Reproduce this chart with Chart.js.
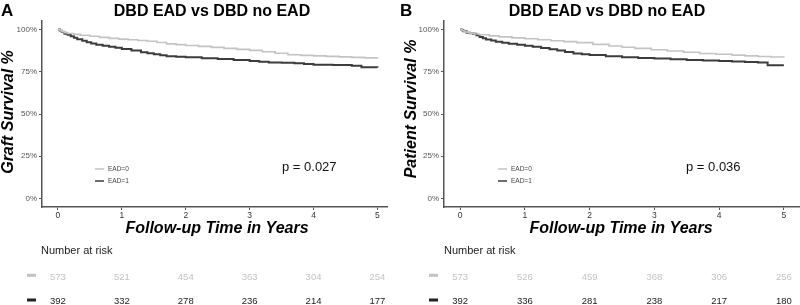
<!DOCTYPE html>
<html>
<head>
<meta charset="utf-8">
<script src="https://cdn.jsdelivr.net/npm/chart.js@4.4.1/dist/chart.umd.min.js"></script>
<style>
  html, body { margin: 0; padding: 0; background: #fff; }
  #wrap { position: relative; width: 800px; height: 305px; }
  .panel { position: absolute; top: 0; width: 400px; height: 305px; }
</style>
</head>
<body>
<div id="wrap">
  <div class="panel" style="left:0"><canvas id="chartA" width="400" height="305"></canvas></div>
  <div class="panel" style="left:400px"><canvas id="chartB" width="400" height="305"></canvas></div>
</div>
<script>
// axis ticks
const years = [0, 1, 2, 3, 4, 5];
const survTicks = [0, 25, 50, 75, 100];

// panel A - graft survival
const graftTime0 = [0, 0.03, 0.06, 0.1, 0.15, 0.25, 0.35, 0.5, 0.65, 0.8, 0.95, 1.1, 1.25, 1.4, 1.55, 1.7, 1.85, 2.0, 2.2, 2.4, 2.6, 2.8, 3.0, 3.2, 3.4, 3.6, 3.8, 4.0, 4.2, 4.4, 4.6, 4.8, 5.0];
const graftSurv0 = [100, 99.3, 98.7, 98.1, 97.6, 97.1, 96.6, 96.0, 95.3, 94.7, 94.3, 93.9, 93.5, 93.0, 92.3, 91.5, 91.0, 90.5, 90.0, 89.4, 88.8, 88.2, 87.6, 86.8, 85.9, 85.0, 84.7, 84.4, 84.1, 83.8, 83.5, 83.2, 83.0];
const graftTime1 = [0, 0.03, 0.06, 0.1, 0.15, 0.2, 0.25, 0.3, 0.38, 0.45, 0.52, 0.6, 0.7, 0.8, 0.9, 1.0, 1.15, 1.3, 1.4, 1.5, 1.6, 1.7, 1.85, 2.0, 2.25, 2.5, 2.75, 3.0, 3.15, 3.3, 3.5, 3.7, 3.85, 4.0, 4.3, 4.6, 4.75, 5.0];
const graftSurv1 = [100, 99.2, 98.5, 97.5, 96.8, 96.0, 95.1, 94.2, 93.3, 92.5, 91.7, 91.0, 90.4, 89.8, 89.2, 88.5, 87.5, 86.5, 85.9, 85.3, 84.8, 84.2, 83.8, 83.5, 83.0, 82.6, 82.0, 81.3, 80.9, 80.5, 80.3, 80.0, 79.6, 79.2, 79.0, 78.6, 77.6, 77.5];
const graftRisk0 = [573, 521, 454, 363, 304, 254];
const graftRisk1 = [392, 332, 278, 236, 214, 177];

// panel B - patient survival
const patTime0 = [0, 0.03, 0.06, 0.1, 0.15, 0.22, 0.3, 0.45, 0.6, 0.8, 1.0, 1.2, 1.4, 1.6, 1.8, 2.05, 2.3, 2.5, 2.7, 2.95, 3.2, 3.45, 3.7, 3.95, 4.2, 4.4, 4.6, 4.8, 5.0];
const patSurv0 = [100, 99.4, 98.8, 98.3, 97.8, 97.3, 96.9, 96.2, 95.6, 95.0, 94.5, 93.9, 93.3, 92.8, 92.2, 91.2, 90.2, 89.5, 88.8, 88.0, 87.3, 86.5, 85.8, 85.3, 84.8, 84.4, 84.0, 83.7, 83.4];
const patTime1 = [0, 0.03, 0.05, 0.1, 0.15, 0.2, 0.25, 0.3, 0.35, 0.4, 0.48, 0.55, 0.65, 0.75, 0.88, 1.0, 1.12, 1.25, 1.38, 1.5, 1.62, 1.75, 1.88, 2.0, 2.25, 2.5, 2.75, 3.0, 3.25, 3.5, 3.75, 4.0, 4.2, 4.4, 4.6, 4.75, 5.0];
const patSurv1 = [100, 99.5, 99, 98, 97.8, 97.5, 96.5, 95.5, 94.8, 94.0, 93.4, 92.8, 92.2, 91.6, 90.9, 90.3, 89.7, 89.1, 88.3, 87.5, 86.6, 85.8, 85.3, 84.9, 84.2, 83.5, 83.1, 82.8, 82.4, 82.0, 81.6, 81.3, 81.0, 80.8, 80.5, 78.9, 78.9];
const patRisk0 = [573, 526, 459, 368, 306, 256];
const patRisk1 = [392, 336, 281, 238, 217, 180];

const groups = ['EAD=0', 'EAD=1'];
const titleText = 'DBD EAD vs DBD no EAD';
const xTitle = 'Follow-up Time in Years';

const FONT = '"Liberation Sans", Arial, Helvetica, sans-serif';
const LIGHT = '#c3c3c3';
const DARK = '#3c3c3c';

// titles, legend, p value and risk table
const kmExtras = {
  id: 'kmExtras',
  afterDraw(chart, args, o) {
    const ctx = chart.ctx;
    const xs = chart.scales.x;
    ctx.save();
    ctx.fillStyle = '#000';
    ctx.textBaseline = 'alphabetic';
    ctx.font = 'bold 17px ' + FONT;
    ctx.textAlign = 'left';
    ctx.fillText(o.letter, o.letterX, 16);
    ctx.font = 'bold 16px ' + FONT;
    ctx.textAlign = 'center';
    ctx.fillText(titleText, o.titleX, 16);

    // y title
    ctx.save();
    ctx.translate(o.yTitleX, o.yTitleY);
    ctx.rotate(-Math.PI / 2);
    ctx.font = 'italic bold 16px ' + FONT;
    ctx.fillText(o.yTitle, 0, 0);
    ctx.restore();

    // x title
    ctx.font = 'italic bold 16px ' + FONT;
    ctx.fillText(xTitle, o.xTitleX, 233);

    // p value
    ctx.textAlign = 'left';
    ctx.font = '13px ' + FONT;
    ctx.fillStyle = '#111';
    ctx.fillText(o.pval, o.pX, 170.5);

    // legend
    ctx.font = '6.5px ' + FONT;
    ctx.fillStyle = '#444';
    ctx.textBaseline = 'middle';
    [LIGHT, DARK].forEach((c, i) => {
      const y = 169 + i * 12;
      ctx.strokeStyle = c;
      ctx.lineWidth = 1.5;
      ctx.beginPath();
      ctx.moveTo(o.legX, y);
      ctx.lineTo(o.legX + 9, y);
      ctx.stroke();
      ctx.fillText(groups[i], o.legX + 13, y + 0.5);
    });

    // number at risk
    ctx.textBaseline = 'alphabetic';
    ctx.font = '11px ' + FONT;
    ctx.fillStyle = '#222';
    ctx.fillText('Number at risk', o.riskLabelX, 254);
    ctx.font = '9.5px ' + FONT;
    ctx.textAlign = 'center';
    [[o.risk0, LIGHT, 279.5, 275.3], [o.risk1, '#222', 304, 300]].forEach(([vals, c, base, sy]) => {
      ctx.fillStyle = c;
      vals.forEach((v, i) => ctx.fillText(String(v), xs.getPixelForValue(years[i]), base));
      ctx.fillRect(o.swX, sy - 1.5, 9, 3);
    });
    ctx.restore();
  }
};

function pts(t, s) {
  return t.map((v, i) => ({ x: v, y: s[i] }));
}

function drawKM(id, cfg) {
  new Chart(document.getElementById(id), {
    type: 'line',
    data: {
      datasets: [
        { label: groups[0], data: pts(cfg.t0, cfg.s0), borderColor: LIGHT, borderWidth: 1.6 },
        { label: groups[1], data: pts(cfg.t1, cfg.s1), borderColor: DARK, borderWidth: 2 }
      ]
    },
    options: {
      responsive: false,
      animation: false,
      devicePixelRatio: 1,
      layout: { padding: { top: 21, right: cfg.padRight, left: 0, bottom: 0 } },
      elements: {
        point: { radius: 0 },
        line: { stepped: true, fill: false, tension: 0 }
      },
      plugins: {
        legend: { display: false },
        tooltip: { enabled: false },
        kmExtras: cfg.extras
      },
      scales: {
        x: {
          type: 'linear',
          min: -0.25,
          max: cfg.xMax,
          afterBuildTicks: s => { s.ticks = years.map(v => ({ value: v })); },
          afterFit: s => { s.height = 98; },
          ticks: { color: '#333', font: { size: 8.5, family: FONT }, padding: 1, maxRotation: 0 },
          grid: { display: true, drawOnChartArea: false, drawTicks: true, tickLength: 3, color: '#555' },
          border: { display: true, color: '#555', width: 1.5 }
        },
        y: {
          min: -5,
          max: 105,
          afterBuildTicks: s => { s.ticks = survTicks.map(v => ({ value: v })); },
          afterFit: s => { s.width = cfg.yWidth; },
          ticks: { color: '#555', font: { size: 8, family: FONT }, padding: 2, callback: v => v + '%' },
          grid: { display: true, drawOnChartArea: false, drawTicks: true, tickLength: 3, color: '#555' },
          border: { display: true, color: '#555', width: 1.5 }
        }
      }
    },
    plugins: [kmExtras]
  });
}

drawKM('chartA', {
  t0: graftTime0, s0: graftSurv0, t1: graftTime1, s1: graftSurv1,
  xMax: 5.15, padRight: 13, yWidth: 42,
  extras: {
    letter: 'A', letterX: 1, titleX: 212,
    yTitle: 'Graft Survival %', yTitleX: 13, yTitleY: 112,
    xTitleX: 217, pval: 'p = 0.027', pX: 282, legX: 95,
    riskLabelX: 41, swX: 27, risk0: graftRisk0, risk1: graftRisk1
  }
});

drawKM('chartB', {
  t0: patTime0, s0: patSurv0, t1: patTime1, s1: patSurv1,
  xMax: 5.25, padRight: 0, yWidth: 44,
  extras: {
    letter: 'B', letterX: 0, titleX: 207,
    yTitle: 'Patient Survival %', yTitleX: 16, yTitleY: 109,
    xTitleX: 221, pval: 'p = 0.036', pX: 286, legX: 98,
    riskLabelX: 44, swX: 29, risk0: patRisk0, risk1: patRisk1
  }
});
</script>
</body>
</html>
